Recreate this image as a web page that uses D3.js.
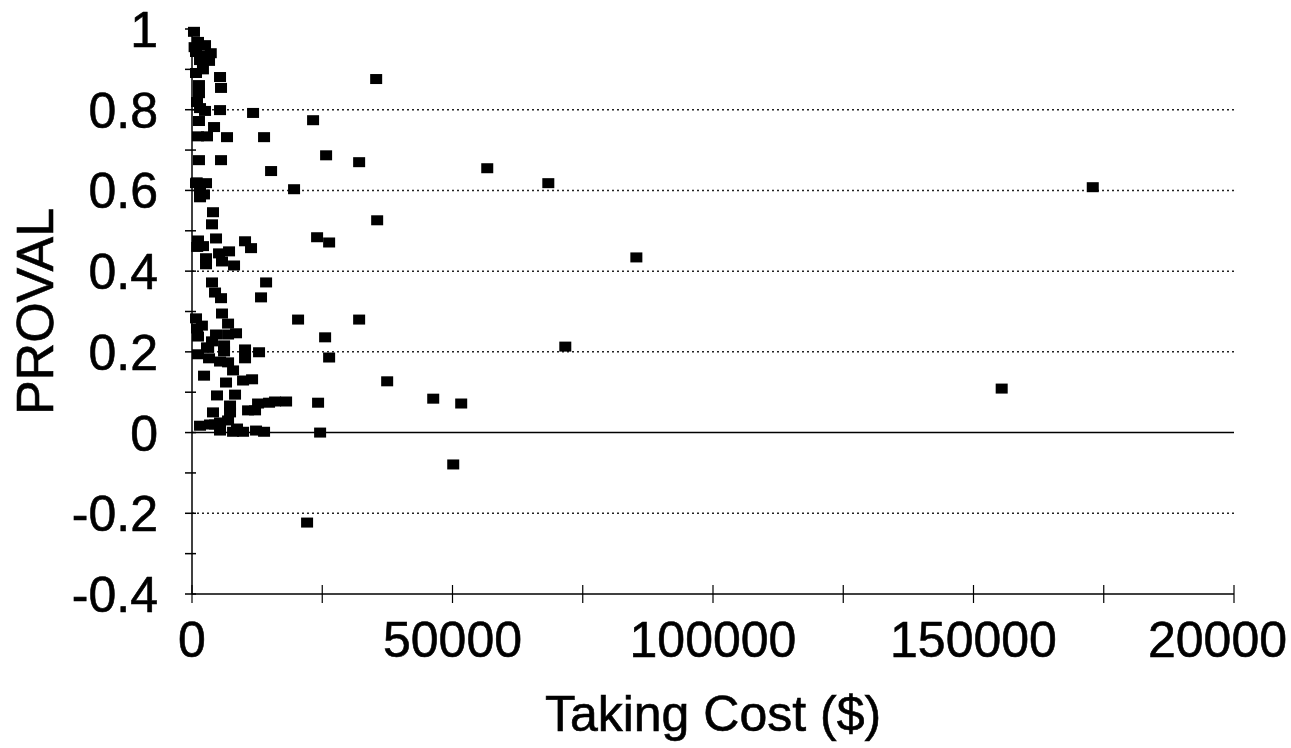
<!DOCTYPE html>
<html>
<head>
<meta charset="utf-8">
<script src="https://cdn.jsdelivr.net/npm/d3@7"></script>
<style>
  body { margin: 0; background: #fff; }
  text { font-family: "Liberation Sans", Arial, sans-serif; fill: #000; stroke: #000; stroke-width: 0.6px; }
</style>
</head>
<body>
<script>
// taking cost ($) and PROVAL for each parcel
let takingCost = [
    35350, 23240, 11720, 13830, 25740, 32080, 15180, 19590, 56670, 68390,
    172890, 35540, 24010, 26320, 85290, 10180, 11330, 14220, 13250, 20360,
    32080, 25550, 26320, 71650, 37460, 155410, 46300, 51670, 24200, 24590,
    50140, 22090, 18060, 15940, 14790,
    380, 1150, 2500, 770, 2310, 1540, 3270, 770, 5380, 1340,
    1340, 5570, 960, 1540, 2500, 5380, 1340, 4230, 1150, 2880,
    6720, 1340, 5570, 770, 2690, 1540, 1540, 4030, 3840, 1150,
    2110, 4610, 2690, 2690, 5190, 5760, 7110, 8070, 3840, 4420,
    5570, 770, 5760, 960, 1150, 6920, 4610, 6920, 8450, 3840,
    6150, 6150, 2880, 1150, 10180, 12870, 10180, 3270, 5380, 6920,
    7880, 2310, 6530, 9800, 11530, 4800, 8260, 12680, 4030, 7300,
    7300, 10760, 12100, 1540, 3460, 5380, 6920, 8640, 9800, 12290,
    13830, 4420, 7880, 5380,
    2100, 500, 3600, 900, 2300, 1000, 1900, 3100
];
let proval = [
    0.876, 0.774, 0.792, 0.732, 0.687, 0.670, 0.648, 0.603, 0.655, 0.618,
    0.608, 0.526, 0.484, 0.471, 0.434, 0.474, 0.457, 0.372, 0.335, 0.280,
    0.280, 0.236, 0.186, 0.213, 0.127, 0.109, 0.084, 0.072, 0.074, 0.000,
    -0.079, -0.223, 0.077, 0.077, 0.074,
    0.993, 0.968, 0.960, 0.943, 0.935, 0.923, 0.921, 0.891, 0.881, 0.861,
    0.841, 0.854, 0.819, 0.804, 0.797, 0.799, 0.772, 0.757, 0.734, 0.734,
    0.732, 0.675, 0.675, 0.618, 0.618, 0.600, 0.583, 0.546, 0.516, 0.476,
    0.462, 0.481, 0.432, 0.417, 0.444, 0.424, 0.449, 0.414, 0.372, 0.347,
    0.333, 0.283, 0.295, 0.258, 0.238, 0.270, 0.243, 0.243, 0.246, 0.226,
    0.216, 0.201, 0.211, 0.194, 0.206, 0.199, 0.184, 0.184, 0.176, 0.174,
    0.154, 0.141, 0.124, 0.129, 0.132, 0.092, 0.094, 0.072, 0.050, 0.067,
    0.050, 0.055, 0.055, 0.017, 0.020, 0.025, 0.030, 0.010, 0.002, 0.005,
    0.002, 0.020, 0.002, 0.005,
    0.900, 0.955, 0.940, 0.620, 0.590, 0.460, 0.265, 0.210
];

let xTicks = [0, 50000, 100000, 150000, 200000];
let xTickLabels = ["0", "50000", "100000", "150000", "20000"];
let xMinorTicks = [25000, 75000, 125000, 175000];
let yTicks = [-0.4, -0.2, 0, 0.2, 0.4, 0.6, 0.8, 1];
let yTickLabels = ["-0.4", "-0.2", "0", "0.2", "0.4", "0.6", "0.8", "1"];
let yMinorTicks = [-0.3, -0.1, 0.1, 0.3, 0.5, 0.7, 0.9];
let gridValues = [-0.2, 0.2, 0.4, 0.6, 0.8];

let width = 1291;
let height = 748;

let svg = d3.select("body")
            .append("svg")
            .attr("width", width)
            .attr("height", height);

let x = d3.scaleLinear().domain([0, 200000]).range([192, 1234]);
let y = d3.scaleLinear().domain([-0.4, 1]).range([594, 29]);

// dotted grid lines
svg.append("g")
    .selectAll("line")
    .data(gridValues)
    .join("line")
    .attr("x1", x(0))
    .attr("x2", x(200000))
    .attr("y1", d => y(d))
    .attr("y2", d => y(d))
    .style("stroke", "#222")
    .style("stroke-width", 1.5)
    .style("stroke-dasharray", "2,3");

// solid zero line
svg.append("line")
    .attr("x1", x(0))
    .attr("x2", x(200000))
    .attr("y1", y(0))
    .attr("y2", y(0))
    .style("stroke", "#000")
    .style("stroke-width", 1.5);

// y axis with crossing ticks
let yAxis = svg.append("g");
yAxis.append("line")
    .attr("x1", x(0))
    .attr("x2", x(0))
    .attr("y1", y(1) - 2)
    .attr("y2", y(-0.4))
    .style("stroke", "#000")
    .style("stroke-width", 1.5);
yAxis.selectAll(".tk")
    .data(yTicks.concat(yMinorTicks))
    .join("line")
    .attr("class", "tk")
    .attr("x1", x(0) - 7)
    .attr("x2", x(0) + 4)
    .attr("y1", d => y(d))
    .attr("y2", d => y(d))
    .style("stroke", "#000")
    .style("stroke-width", 1.5);
yAxis.selectAll("text")
    .data(yTicks)
    .join("text")
    .attr("x", 158)
    .attr("y", d => y(d))
    .attr("dy", "0.36em")
    .attr("text-anchor", "end")
    .style("font-size", "50px")
    .text((d, i) => yTickLabels[i]);

// x axis along the bottom
let xAxis = svg.append("g");
xAxis.append("line")
    .attr("x1", x(0))
    .attr("x2", x(200000))
    .attr("y1", y(-0.4))
    .attr("y2", y(-0.4))
    .style("stroke", "#000")
    .style("stroke-width", 1.5);
xAxis.selectAll(".tk")
    .data(xTicks.concat(xMinorTicks))
    .join("line")
    .attr("class", "tk")
    .attr("x1", d => x(d))
    .attr("x2", d => x(d))
    .attr("y1", y(-0.4) - 9)
    .attr("y2", y(-0.4) + 9)
    .style("stroke", "#000")
    .style("stroke-width", 1.2);
xAxis.selectAll("text")
    .data(xTicks)
    .join("text")
    .attr("x", d => x(d))
    .attr("y", 657)
    .attr("text-anchor", (d, i) => i == xTicks.length - 1 ? "start" : "middle")
    .attr("dx", (d, i) => i == xTicks.length - 1 ? -86 : 0)
    .style("font-size", "50px")
    .text((d, i) => xTickLabels[i]);

// axis titles
svg.append("text")
    .attr("x", x(100000))
    .attr("y", 731)
    .attr("text-anchor", "middle")
    .style("font-size", "50px")
    .text("Taking Cost ($)");

svg.append("text")
    .attr("transform", "translate(53," + y(0.3) + ") rotate(-90)")
    .attr("text-anchor", "middle")
    .style("font-size", "52px")
    .text("PROVAL");

// points as small black squares
let pts = takingCost.map((v, i) => ({cost: v, val: proval[i]}));
svg.append("g")
    .selectAll("rect")
    .data(pts)
    .join("rect")
    .attr("x", d => x(d.cost) - 6)
    .attr("y", d => y(d.val) - 5)
    .attr("width", 12)
    .attr("height", 10)
    .style("fill", "#000");
</script>
</body>
</html>
